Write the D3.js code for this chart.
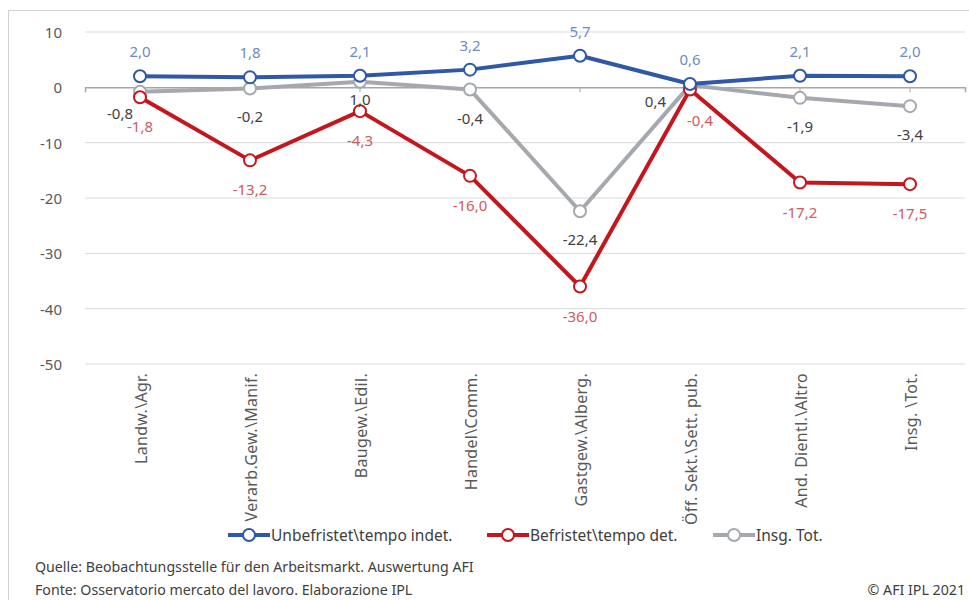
<!DOCTYPE html>
<html>
<head>
<meta charset="utf-8">
<script src="https://cdn.jsdelivr.net/npm/d3@7"></script>
<style>
  body { margin: 0; background: #fff; }
  svg text { font-family: "Noto Sans", sans-serif; }
</style>
</head>
<body>
<div id="chart"></div>
<script>
// Chart data
const categories = ['Landw.\\Agr.', 'Verarb.Gew.\\Manif.', 'Baugew.\\Edil.', 'Handel\\Comm.',
  'Gastgew.\\Alberg.', 'Öff. Sekt.\\Sett. pub.', 'And. Dientl.\\Altro', 'Insg. \\Tot.'];
const unbefristet = [2.0, 1.8, 2.1, 3.2, 5.7, 0.6, 2.1, 2.0];
const befristet = [-1.8, -13.2, -4.3, -16.0, -36.0, -0.4, -17.2, -17.5];
const insgesamt = [-0.8, -0.2, 1.0, -0.4, -22.4, 0.4, -1.9, -3.4];
const yTicks = [10, 0, -10, -20, -30, -40, -50];
const seriesNames = ['Unbefristet\\tempo indet.', 'Befristet\\tempo det.', 'Insg. Tot.'];

const width = 969, height = 600;
const fmt = v => v.toFixed(1).replace('.', ',');

const svg = d3.select('#chart').append('svg')
  .attr('width', width)
  .attr('height', height);

// outer frame
svg.append('rect')
  .attr('x', 8.5).attr('y', 10.5)
  .attr('width', width + 20).attr('height', height)
  .attr('fill', 'none')
  .attr('stroke', '#d0d0d0');

const x = d3.scaleBand().domain(categories).range([85, 965]);
const y = d3.scaleLinear().domain([-50, 10]).range([364, 32]);
const cx = d => x(d) + x.bandwidth() / 2;

// gridlines
svg.append('g')
  .selectAll('line')
  .data(yTicks.filter(t => t !== 0))
  .enter()
  .append('line')
  .attr('x1', 85).attr('x2', 965)
  .attr('y1', d => y(d)).attr('y2', d => y(d))
  .attr('stroke', '#d9d9d9')
  .attr('stroke-width', 1);

// y tick labels
svg.append('g')
  .selectAll('text')
  .data(yTicks)
  .enter()
  .append('text')
  .attr('x', 62)
  .attr('y', d => y(d) + 6)
  .attr('text-anchor', 'end')
  .attr('font-size', '15px')
  .attr('fill', '#595959')
  .text(d => d);

// zero axis with ticks
const zeroAxis = svg.append('g')
  .attr('transform', `translate(0,${y(0)})`)
  .call(d3.axisBottom(x).tickSize(5).tickFormat(''));
zeroAxis.select('.domain').attr('stroke', '#a6a6a6').attr('stroke-width', 1.5);
zeroAxis.selectAll('.tick line').attr('stroke', '#a6a6a6');

// category labels (rotated)
svg.append('g')
  .selectAll('text')
  .data(categories)
  .enter()
  .append('text')
  .attr('transform', d => `translate(${cx(d) + 7},373) rotate(-90)`)
  .attr('text-anchor', 'end')
  .attr('font-size', '16px')
  .attr('letter-spacing', '0.3px')
  .attr('fill', '#595959')
  .text(d => d);

const series = [
  { name: seriesNames[2], values: insgesamt, color: '#a5a9ad', label: '#404040' },
  { name: seriesNames[1], values: befristet, color: '#c4161c', label: '#d05a60' },
  { name: seriesNames[0], values: unbefristet, color: '#2f58a6', label: '#6a8cc8' }
];

const line = d3.line()
  .x((d, i) => cx(categories[i]))
  .y(d => y(d));

series.forEach(s => {
  svg.append('path')
    .datum(s.values)
    .attr('d', line)
    .attr('fill', 'none')
    .attr('stroke', s.color)
    .attr('stroke-width', 4)
    .attr('stroke-linejoin', 'round');

  svg.append('g')
    .selectAll('circle')
    .data(s.values)
    .enter()
    .append('circle')
    .attr('cx', (d, i) => cx(categories[i]))
    .attr('cy', d => y(d))
    .attr('r', 6)
    .attr('fill', '#fff')
    .attr('stroke', s.color)
    .attr('stroke-width', 2);
});

// data labels
function addLabels(values, color, pos) {
  svg.append('g')
    .selectAll('text')
    .data(values)
    .enter()
    .append('text')
    .attr('x', (d, i) => cx(categories[i]) + pos(i).dx)
    .attr('y', d => y(d))
    .attr('dy', (d, i) => pos(i).dy)
    .attr('text-anchor', (d, i) => pos(i).anchor || 'middle')
    .attr('font-size', '15px')
    .attr('fill', color)
    .text(d => fmt(d));
}
addLabels(unbefristet, series[2].label, i => ({ dx: 0, dy: -19 }));
addLabels(befristet, series[1].label, i => i === 5 ? { dx: 10, dy: 36 } : { dx: 0, dy: 35 });
addLabels(insgesamt, series[0].label, i => {
  if (i === 0) return { dx: -7, dy: 27, anchor: 'end' };
  if (i === 5) return { dx: -24, dy: 22, anchor: 'end' };
  if (i === 2) return { dx: 0, dy: 23 };
  return { dx: 0, dy: 34 };
});

// legend
const legendItems = [
  { name: seriesNames[0], color: '#2f58a6', x: 228 },
  { name: seriesNames[1], color: '#c4161c', x: 487 },
  { name: seriesNames[2], color: '#a5a9ad', x: 713 }
];
const legend = svg.append('g');
legendItems.forEach(item => {
  const g = legend.append('g').attr('transform', `translate(${item.x},535)`);
  g.append('line')
    .attr('x1', 0).attr('x2', 42)
    .attr('stroke', item.color)
    .attr('stroke-width', 4);
  g.append('circle')
    .attr('cx', 21).attr('r', 6)
    .attr('fill', '#fff')
    .attr('stroke', item.color)
    .attr('stroke-width', 2);
  g.append('text')
    .attr('x', 43).attr('y', 6)
    .attr('font-size', '15.5px')
    .attr('fill', '#404040')
    .text(item.name);
});

// source notes
svg.append('text')
  .attr('x', 35).attr('y', 572)
  .attr('font-size', '14.2px')
  .attr('fill', '#404040')
  .text('Quelle:  Beobachtungsstelle für den Arbeitsmarkt. Auswertung AFI');
svg.append('text')
  .attr('x', 35).attr('y', 595)
  .attr('font-size', '14.2px')
  .attr('fill', '#404040')
  .text('Fonte: Osservatorio mercato del lavoro. Elaborazione IPL');
svg.append('text')
  .attr('x', 965).attr('y', 595)
  .attr('text-anchor', 'end')
  .attr('font-size', '14.2px')
  .attr('fill', '#404040')
  .text('© AFI IPL 2021');
</script>
</body>
</html>
